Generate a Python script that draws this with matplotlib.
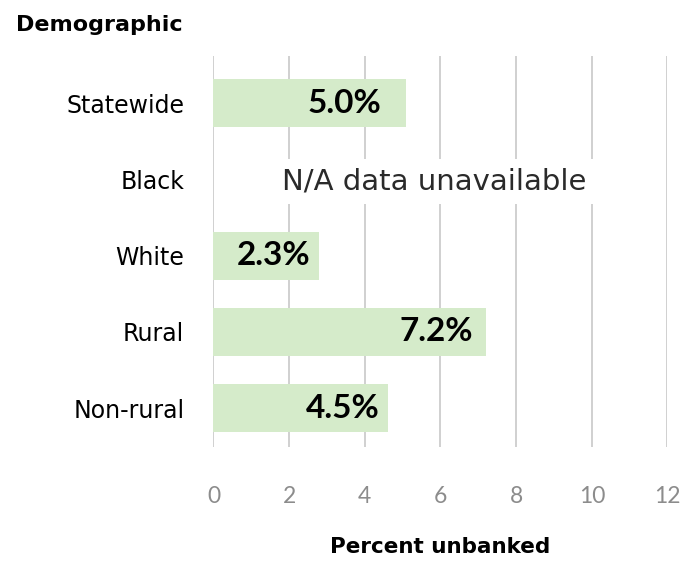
import numpy as np
import matplotlib
matplotlib.use("Agg")
import matplotlib.pyplot as plt

# Data
categories = ["Statewide", "Black", "White", "Rural", "Non-rural"]
bar_values = [5.1, 0.0, 2.8, 7.2, 4.6]          # bar lengths as drawn
value_labels = ["5.0%", None, "2.3%", "7.2%", "4.5%"]
label_right = [4.43, None, 2.55, 6.86, 4.40]     # right edge of each value label
na_text = "N/A data unavailable"
x_ticks = [0, 2, 4, 6, 8, 10, 12]

plt.rcParams['font.family'] = ['DejaVu Sans']

fig = plt.figure(figsize=(6.94, 5.66), dpi=100)
ax = fig.add_axes([0.3076, 0.2102, 0.9618 - 0.3076, 0.901 - 0.2102])

y = np.arange(len(categories))
ax.barh(y, bar_values, height=0.63, color='#d5ebca', zorder=2)

# value labels inside the bars
for yi, lab, xr in zip(y, value_labels, label_right):
    if lab is None:
        continue
    ax.text(xr, yi, lab, ha='right', va='center', fontsize=24,
            family=['Lato', 'DejaVu Sans'], fontweight='bold',
            color='black', zorder=3)

# N/A note for missing row, white box hides the gridlines
ax.text(5.84, 1.03, na_text, ha='center', va='center', fontsize=21,
        color='#2a2a2a', zorder=3,
        bbox=dict(facecolor='white', edgecolor='none', pad=6))

ax.set_xlim(0, 12)
ax.set_ylim(4.51, -0.62)
ax.set_xticks(x_ticks)
ax.set_xticklabels([str(t) for t in x_ticks], family=['Lato', 'DejaVu Sans'])
ax.set_yticks(y)
ax.set_yticklabels(categories)

ax.xaxis.grid(True, color='#d0d0d0', linewidth=1.4, zorder=0)
ax.set_axisbelow(True)
for s in ax.spines.values():
    s.set_visible(False)

ax.tick_params(axis='x', length=0, pad=28, labelsize=16.5, labelcolor='#8c8c8c')
ax.tick_params(axis='y', length=0, pad=21, labelsize=17, labelcolor='black')

ax.set_xlabel("Percent unbanked", fontsize=15.5, fontweight='bold', labelpad=22)

fig.text(183 / 694, 1 - 25 / 566, "Demographic", ha='right', va='center',
         fontsize=16, fontweight='bold')

fig.savefig("out.png", dpi=100)
